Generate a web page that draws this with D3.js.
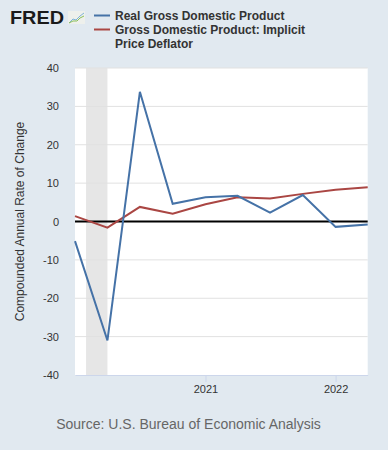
<!DOCTYPE html>
<html>
<head>
<meta charset="utf-8">
<script src="https://cdn.jsdelivr.net/npm/d3@7"></script>
<style>
  body { margin: 0; background: #e1e9f0; }
  svg { display: block; font-family: "Liberation Sans", Arial, sans-serif; }
</style>
</head>
<body>
<div id="plot"></div>
<script>
// quarterly observations
const quarters = ["2020-01-01", "2020-04-01", "2020-07-01", "2020-10-01", "2021-01-01",
  "2021-04-01", "2021-07-01", "2021-10-01", "2022-01-01", "2022-04-01"];
const realGDP = [-5.1, -31.0, 33.8, 4.6, 6.3, 6.7, 2.3, 6.9, -1.4, -0.8];
const deflator = [1.4, -1.6, 3.8, 2.0, 4.5, 6.3, 6.0, 7.2, 8.3, 8.9];
const yTicks = [-40, -30, -20, -10, 0, 10, 20, 30, 40];
const xTicks = ["2021-01-01", "2022-01-01"];
const recession = ["2020-02-01", "2020-04-01"];
const seriesNames = ["Real Gross Domestic Product", "Gross Domestic Product: Implicit", "Price Deflator"];

const w = 388, h = 450;
const margin = {top: 68, right: 20, bottom: 75, left: 75};
const parse = d3.timeParse("%Y-%m-%d");

const svg = d3.select("div#plot")
  .append("svg")
  .attr("width", w)
  .attr("height", h);

svg.append("rect")
  .attr("width", w)
  .attr("height", h)
  .attr("fill", "#e1e9f0");

const xScale = d3.scaleTime()
  .domain([parse(quarters[0]), parse(quarters[quarters.length - 1])])
  .range([margin.left, 367.7]);

const yScale = d3.scaleLinear()
  .domain([-40, 40])
  .range([375, margin.top]);

// plot background
svg.append("rect")
  .attr("x", xScale.range()[0])
  .attr("y", yScale(40))
  .attr("width", xScale.range()[1] - xScale.range()[0])
  .attr("height", yScale(-40) - yScale(40))
  .attr("fill", "#ffffff");

// recession shading
svg.append("rect")
  .attr("x", xScale(parse(recession[0])))
  .attr("y", yScale(40))
  .attr("width", xScale(parse(recession[1])) - xScale(parse(recession[0])))
  .attr("height", yScale(-40) - yScale(40))
  .attr("fill", "#e6e6e6");

// gridlines
svg.append("g")
  .selectAll("line")
  .data(yTicks.filter(d => d !== 0 && d !== -40))
  .join("line")
  .attr("x1", xScale.range()[0])
  .attr("x2", xScale.range()[1])
  .attr("y1", d => yScale(d))
  .attr("y2", d => yScale(d))
  .attr("stroke", "#e1e1e1")
  .attr("stroke-width", 1);

// y axis labels
const yAxis = d3.axisLeft(yScale)
  .tickValues(yTicks)
  .tickFormat(d => String(d))
  .tickSize(0)
  .tickPadding(16);

svg.append("g")
  .attr("transform", `translate(${margin.left}, 0)`)
  .call(yAxis)
  .call(g => g.select(".domain").remove())
  .selectAll("text")
  .style("font-size", "11px")
  .style("font-family", "Liberation Sans, Arial, sans-serif")
  .style("fill", "#333333");

// x axis
const xAxis = d3.axisBottom(xScale)
  .tickValues(xTicks.map(parse))
  .tickFormat(d3.timeFormat("%Y"))
  .tickSizeInner(7)
  .tickSizeOuter(0)
  .tickPadding(3);

svg.append("g")
  .attr("transform", `translate(0, ${yScale(-40)})`)
  .call(xAxis)
  .call(g => g.select(".domain").attr("stroke", "#ccd6eb"))
  .call(g => g.selectAll(".tick line").attr("stroke", "#ccd6eb"))
  .selectAll("text")
  .style("font-size", "11px")
  .style("font-family", "Liberation Sans, Arial, sans-serif")
  .style("fill", "#333333");

// zero line
svg.append("line")
  .attr("x1", xScale.range()[0])
  .attr("x2", xScale.range()[1])
  .attr("y1", yScale(0))
  .attr("y2", yScale(0))
  .attr("stroke", "#000000")
  .attr("stroke-width", 2);

// series lines
const line = d3.line()
  .x((d, i) => xScale(parse(quarters[i])))
  .y(d => yScale(d));

svg.append("path")
  .datum(deflator)
  .attr("d", line)
  .attr("fill", "none")
  .attr("stroke", "#aa4643")
  .attr("stroke-width", 2);

svg.append("path")
  .datum(realGDP)
  .attr("d", line)
  .attr("fill", "none")
  .attr("stroke", "#4572a7")
  .attr("stroke-width", 2);

// y axis title
svg.append("text")
  .attr("transform", "rotate(-90)")
  .attr("x", -(yScale(40) + yScale(-40)) / 2)
  .attr("y", 24)
  .attr("text-anchor", "middle")
  .style("font-size", "12px")
  .style("fill", "#333333")
  .text("Compounded Annual Rate of Change");

// FRED logo
svg.append("text")
  .attr("x", 10)
  .attr("y", 24)
  .attr("textLength", 54)
  .attr("lengthAdjust", "spacingAndGlyphs")
  .style("font-size", "17.5px")
  .style("font-weight", "bold")
  .style("fill", "#1a1a1a")
  .text("FRED");

const logo = svg.append("g").attr("transform", "translate(68, 11)");
logo.append("rect")
  .attr("width", 17)
  .attr("height", 13)
  .attr("fill", "#eef0ec");
logo.append("polyline")
  .attr("points", "1,12 5,8 8,9 12,5 16,2")
  .attr("fill", "none")
  .attr("stroke", "#7fb3d8")
  .attr("stroke-width", 1);
logo.append("polyline")
  .attr("points", "1,12 5,10 9,10 12,7 16,5")
  .attr("fill", "none")
  .attr("stroke", "#8cc05a")
  .attr("stroke-width", 1);

// legend
const legendColors = ["#4572a7", "#aa4643"];
legendColors.forEach((c, i) => {
  svg.append("line")
    .attr("x1", 94)
    .attr("x2", 110)
    .attr("y1", 15.5 + i * 14)
    .attr("y2", 15.5 + i * 14)
    .attr("stroke", c)
    .attr("stroke-width", 2);
});

seriesNames.forEach((t, i) => {
  svg.append("text")
    .attr("x", 115)
    .attr("y", 19.8 + i * 14)
    .style("font-size", "12px")
    .style("font-weight", "bold")
    .style("fill", "#333333")
    .text(t);
});

// source note
svg.append("text")
  .attr("x", 188.5)
  .attr("y", 429)
  .attr("text-anchor", "middle")
  .style("font-size", "14px")
  .style("fill", "#666666")
  .text("Source: U.S. Bureau of Economic Analysis");
</script>
</body>
</html>
